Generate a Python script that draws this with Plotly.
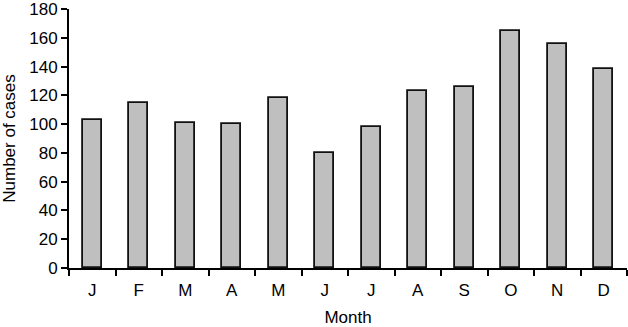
import plotly.graph_objects as go

months = ["J", "F", "M", "A", "M", "J", "J", "A", "S", "O", "N", "D"]
cases = [103, 115, 101, 100, 118, 80, 98, 123, 126, 165, 156, 138]
y_ticks = list(range(0, 181, 20))

x_pos = list(range(len(months)))
boundaries = [i - 0.5 for i in range(len(months) + 1)]

fig = go.Figure()
fig.add_trace(go.Bar(
    x=x_pos, y=cases, width=0.41,
    marker=dict(color="#bfbfbf", line=dict(color="#111111", width=1.8)),
))

font = dict(family="Liberation Sans, Arial, sans-serif", size=18, color="black")
fig.update_layout(
    width=628, height=327,
    margin=dict(l=69, r=1, t=9, b=59, autoexpand=False),
    plot_bgcolor="white", paper_bgcolor="white",
    showlegend=False, font=font, bargap=0,
)
fig.update_xaxes(
    range=[-0.5, 11.5], tickmode="array", tickvals=x_pos, ticktext=months,
    ticks="outside", ticklen=6, tickcolor="rgba(0,0,0,0)",
    minor=dict(tickmode="array", tickvals=boundaries, ticks="outside",
               ticklen=6, tickwidth=2, tickcolor="black", showgrid=False),
    showline=True, linecolor="black", linewidth=2, showgrid=False, zeroline=False,
    title=dict(text="Month", font=dict(size=17), standoff=13),
    tickfont=dict(size=17), automargin=False, ticklabeloverflow="allow",
)
fig.update_yaxes(
    range=[0, 180], tickmode="array", tickvals=y_ticks,
    ticks="outside", ticklen=6, tickwidth=2, tickcolor="black",
    showline=True, linecolor="black", linewidth=2, showgrid=False, zeroline=False,
    title=dict(text="Number of cases", font=dict(size=17), standoff=10),
    tickfont=dict(size=17), automargin=False, ticklabeloverflow="allow",
)
fig.write_html(
    "out.html",
    config={"displayModeBar": False},
    post_script="document.body.style.margin='0';document.body.style.overflow='hidden';",
)
